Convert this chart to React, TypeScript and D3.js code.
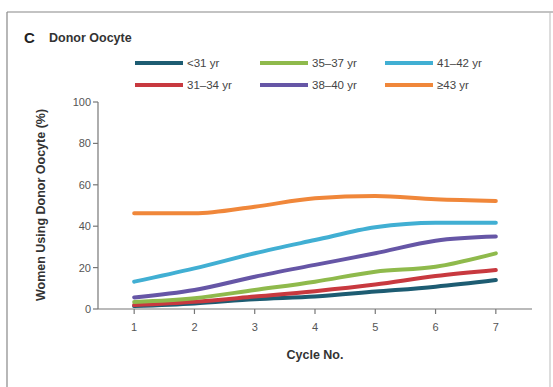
import * as d3 from "d3";

const cycles = [1, 2, 3, 4, 5, 6, 7];
const yTicks = [0, 20, 40, 60, 80, 100];

const seriesNames = ["<31 yr", "31–34 yr", "35–37 yr", "38–40 yr", "41–42 yr", "≥43 yr"];
const seriesColors = ["#1d5c72", "#c8393f", "#8fba4c", "#6656a6", "#41afd3", "#f0873a"];

const under31 = [1.4, 2.7, 4.7, 6.0, 8.4, 10.8, 14.0];
const age31to34 = [1.9, 3.5, 6.0, 8.6, 11.8, 15.9, 18.8];
const age35to37 = [3.4, 5.2, 9.2, 13.2, 18.0, 20.4, 26.9];
const age38to40 = [5.6, 9.2, 15.6, 21.3, 26.9, 33.0, 35.0];
const age41to42 = [13.2, 19.6, 26.9, 33.3, 39.5, 41.7, 41.7];
const over43 = [46.2, 46.2, 49.4, 53.5, 54.6, 53.0, 52.2];

const seriesValues = [under31, age31to34, age35to37, age38to40, age41to42, over43];

const W = 553;
const H = 387;
const FONT = "'Liberation Sans Narrow', 'Liberation Sans', Arial, sans-serif";

export default function App() {
  const x = d3.scaleLinear().domain([0.4, 7.6]).range([98, 532]);
  const y = d3.scaleLinear().domain([0, 100]).range([309, 102]);

  const line = d3
    .line<number>()
    .x((_, i) => x(cycles[i]))
    .y((d) => y(d))
    .curve(d3.curveMonotoneX);

  // legend is laid out column-first: 3 columns x 2 rows
  const legendCols = [135, 260, 385];
  const legendRows = [63, 85];

  return (
    <svg
      width={W}
      height={H}
      style={{ position: "absolute", left: 0, top: 0, background: "#fff" }}
      fontFamily={FONT}
    >
      {/* panel frame */}
      <line x1={7} x2={553} y1={12} y2={12} stroke="#888" strokeWidth={1.2} />
      <line x1={7} x2={7} y1={12} y2={387} stroke="#888" strokeWidth={1.2} />
      <line x1={550} x2={550} y1={12} y2={387} stroke="#bbb" strokeWidth={1} />

      <text x={24} y={43} fontSize={15} fontWeight="bold" fill="#222">
        C
      </text>
      <text x={49} y={42} fontSize={12.5} fontWeight="bold" fill="#333">
        Donor Oocyte
      </text>

      {/* legend */}
      {seriesNames.map((name, i) => {
        const cx = legendCols[Math.floor(i / 2)];
        const cy = legendRows[i % 2];
        return (
          <g key={name}>
            <line x1={cx} x2={cx + 48} y1={cy} y2={cy} stroke={seriesColors[i]} strokeWidth={4} />
            <text x={cx + 52} y={cy + 4} fontSize={11.5} fill="#444">
              {name}
            </text>
          </g>
        );
      })}

      {/* y axis */}
      <line x1={98} x2={98} y1={y(100)} y2={y(0)} stroke="#777" strokeWidth={1.2} />
      {yTicks.map((t) => (
        <g key={t}>
          <line x1={93} x2={98} y1={y(t)} y2={y(t)} stroke="#777" strokeWidth={1.2} />
          <text x={91} y={y(t) + 4} fontSize={11} fill="#555" textAnchor="end">
            {t}
          </text>
        </g>
      ))}
      <text
        transform="translate(45,205) rotate(-90)"
        fontSize={12.5}
        fontWeight="bold"
        fill="#333"
        textAnchor="middle"
      >
        Women Using Donor Oocyte (%)
      </text>

      {/* x axis */}
      <line x1={98} x2={532} y1={y(0)} y2={y(0)} stroke="#777" strokeWidth={1.2} />
      {cycles.map((c) => (
        <g key={c}>
          <line x1={x(c)} x2={x(c)} y1={y(0)} y2={y(0) + 5} stroke="#777" strokeWidth={1.2} />
          <text x={x(c)} y={y(0) + 22} fontSize={11} fill="#555" textAnchor="middle">
            {c}
          </text>
        </g>
      ))}
      <text x={315} y={359} fontSize={12.5} fontWeight="bold" fill="#333" textAnchor="middle">
        Cycle No.
      </text>

      {/* series */}
      {seriesValues.map((vals, i) => (
        <path
          key={seriesNames[i]}
          d={line(vals) ?? ""}
          fill="none"
          stroke={seriesColors[i]}
          strokeWidth={4}
          strokeLinecap="round"
        />
      ))}
    </svg>
  );
}
